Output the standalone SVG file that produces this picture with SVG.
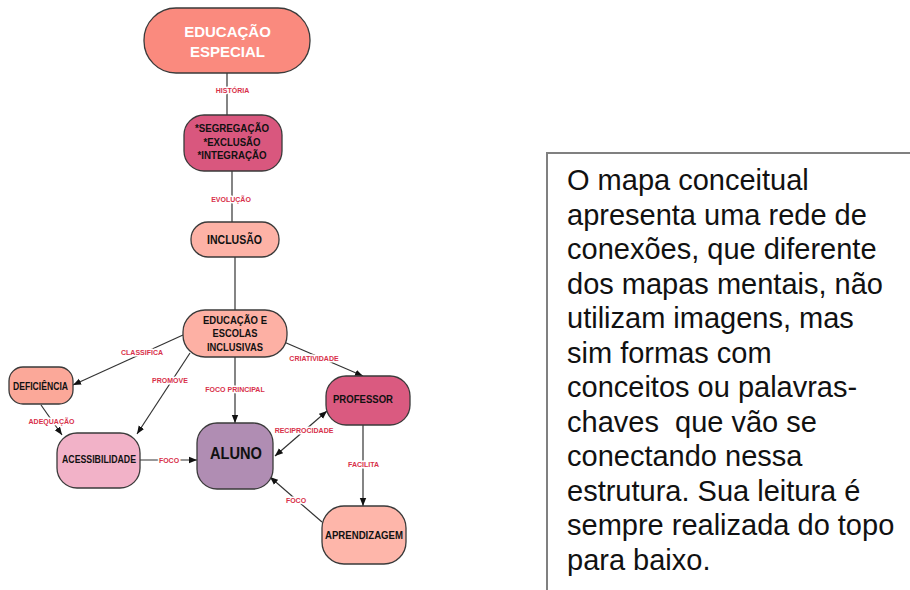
<svg xmlns="http://www.w3.org/2000/svg" width="910" height="590" viewBox="0 0 910 590">
<style>
.node{stroke:#3a3a3a;stroke-width:1.3}
.nt{font-family:"Liberation Sans",Arial,sans-serif;font-weight:bold;fill:#111;text-anchor:middle}
.lbl{font-family:"Liberation Sans",Arial,sans-serif;font-weight:bold;font-size:7px;fill:#d8304a;text-anchor:middle;stroke:#fff;stroke-width:3;paint-order:stroke;stroke-linejoin:round}
.c{stroke:#333;stroke-width:1.2;fill:none}
.a{marker-end:url(#arr)}
.body{font-family:"Liberation Sans",Arial,sans-serif;font-size:29px;fill:#111}
</style>
<defs>
<marker id="arr" viewBox="0 0 10 10" refX="10" refY="5" markerWidth="8" markerHeight="8" markerUnits="userSpaceOnUse" orient="auto-start-reverse">
<path d="M0,1 L10,5 L0,9 z" fill="#111"/>
</marker>
</defs>
<rect width="910" height="590" fill="#fff"/>
<g id="connectors">
<line class="c" x1="227" y1="73" x2="227" y2="115"/>
<line class="c" x1="232" y1="171" x2="232" y2="222"/>
<line class="c" x1="235" y1="257" x2="235" y2="310"/>
<line class="c a" x1="183" y1="335" x2="73" y2="385"/>
<line class="c a" x1="190" y1="353" x2="137" y2="434"/>
<line class="c a" x1="235" y1="357" x2="235" y2="423"/>
<line class="c a" x1="284" y1="342" x2="363" y2="376"/>
<line class="c a" x1="41" y1="405" x2="62" y2="435"/>
<line class="c a" x1="140" y1="460" x2="197" y2="460"/>
<line class="c a" x1="275" y1="456" x2="327" y2="411" marker-start="url(#arr)"/>
<line class="c a" x1="363" y1="425" x2="363" y2="506"/>
<line class="c a" x1="322" y1="522" x2="270" y2="477"/>
<text class="lbl" x="232.5" y="93">HISTÓRIA</text>
<text class="lbl" x="231" y="202">EVOLUÇÃO</text>
<text class="lbl" x="142" y="355">CLASSIFICA</text>
<text class="lbl" x="170" y="383">PROMOVE</text>
<text class="lbl" x="235" y="392">FOCO PRINCIPAL</text>
<text class="lbl" x="314" y="361">CRIATIVIDADE</text>
<text class="lbl" x="51.5" y="424">ADEQUAÇÃO</text>
<text class="lbl" x="169" y="463">FOCO</text>
<text class="lbl" x="304" y="433">RECIPROCIDADE</text>
<text class="lbl" x="363.5" y="467">FACILITA</text>
<text class="lbl" x="296" y="503">FOCO</text>
</g>
<g id="n-educacao-especial">
<rect class="node" x="144" y="8" width="166" height="65" rx="32" fill="#fa8a7e"/>
<text class="nt" x="227.5" y="37" font-size="15" style="fill:#fff">EDUCAÇÃO</text>
<text class="nt" x="227.5" y="57" font-size="15" style="fill:#fff">ESPECIAL</text>
</g>
<g id="n-segregacao">
<rect class="node" x="184" y="115" width="98" height="56" rx="20" fill="#d9577e"/>
<text class="nt" x="232" y="132" font-size="11" textLength="74" lengthAdjust="spacingAndGlyphs">*SEGREGAÇÃO</text>
<text class="nt" x="232" y="146" font-size="11" textLength="57" lengthAdjust="spacingAndGlyphs">*EXCLUSÃO</text>
<text class="nt" x="232" y="159" font-size="11" textLength="69" lengthAdjust="spacingAndGlyphs">*INTEGRAÇÃO</text>
</g>
<g id="n-inclusao">
<rect class="node" x="191" y="222" width="88" height="35" rx="17" fill="#fdb2a6"/>
<text class="nt" x="234.5" y="244" font-size="12" textLength="55" lengthAdjust="spacingAndGlyphs">INCLUSÃO</text>
</g>
<g id="n-educacao-escolas">
<rect class="node" x="183" y="310" width="104" height="47" rx="22" fill="#fdb0a4"/>
<text class="nt" x="235" y="324" font-size="11" textLength="64" lengthAdjust="spacingAndGlyphs">EDUCAÇÃO E</text>
<text class="nt" x="235" y="337" font-size="11" textLength="45" lengthAdjust="spacingAndGlyphs">ESCOLAS</text>
<text class="nt" x="235" y="351" font-size="11" textLength="56" lengthAdjust="spacingAndGlyphs">INCLUSIVAS</text>
</g>
<g id="n-deficiencia">
<rect class="node" x="9" y="367" width="64" height="37" rx="14" fill="#fba899"/>
<text class="nt" x="40.5" y="390" font-size="10.5" textLength="55" lengthAdjust="spacingAndGlyphs">DEFICIÊNCIA</text>
</g>
<g id="n-acessibilidade">
<rect class="node" x="57" y="433" width="83" height="55" rx="20" fill="#f2b2c8"/>
<text class="nt" x="99" y="463" font-size="10" textLength="74" lengthAdjust="spacingAndGlyphs">ACESSIBILIDADE</text>
</g>
<g id="n-aluno">
<rect class="node" x="197" y="423" width="76" height="66" rx="20" fill="#b08db3"/>
<text class="nt" x="236" y="459" font-size="17" textLength="52" lengthAdjust="spacingAndGlyphs">ALUNO</text>
</g>
<g id="n-professor">
<rect class="node" x="326" y="376" width="84" height="49" rx="20" fill="#da5a80"/>
<text class="nt" x="363" y="403" font-size="10.5" textLength="60" lengthAdjust="spacingAndGlyphs">PROFESSOR</text>
</g>
<g id="n-aprendizagem">
<rect class="node" x="322" y="506" width="84" height="58" rx="22" fill="#feb6aa"/>
<text class="nt" x="364" y="539" font-size="10.5" textLength="78" lengthAdjust="spacingAndGlyphs">APRENDIZAGEM</text>
</g>
<g id="textbox">
<path d="M547,590 V153 H910" fill="none" stroke="#808080" stroke-width="2"/>
<text class="body" x="567" y="190">O mapa conceitual</text>
<text class="body" x="567" y="224.5">apresenta uma rede de</text>
<text class="body" x="567" y="259">conexões, que diferente</text>
<text class="body" x="567" y="293.5">dos mapas mentais, não</text>
<text class="body" x="567" y="328">utilizam imagens, mas</text>
<text class="body" x="567" y="362.5">sim formas com</text>
<text class="body" x="567" y="397">conceitos ou palavras-</text>
<text class="body" x="567" y="431.5" xml:space="preserve">chaves  que vão se</text>
<text class="body" x="567" y="466">conectando nessa</text>
<text class="body" x="567" y="500.5">estrutura. Sua leitura é</text>
<text class="body" x="567" y="535">sempre realizada do topo</text>
<text class="body" x="567" y="569.5">para baixo.</text>
</g>
</svg>
